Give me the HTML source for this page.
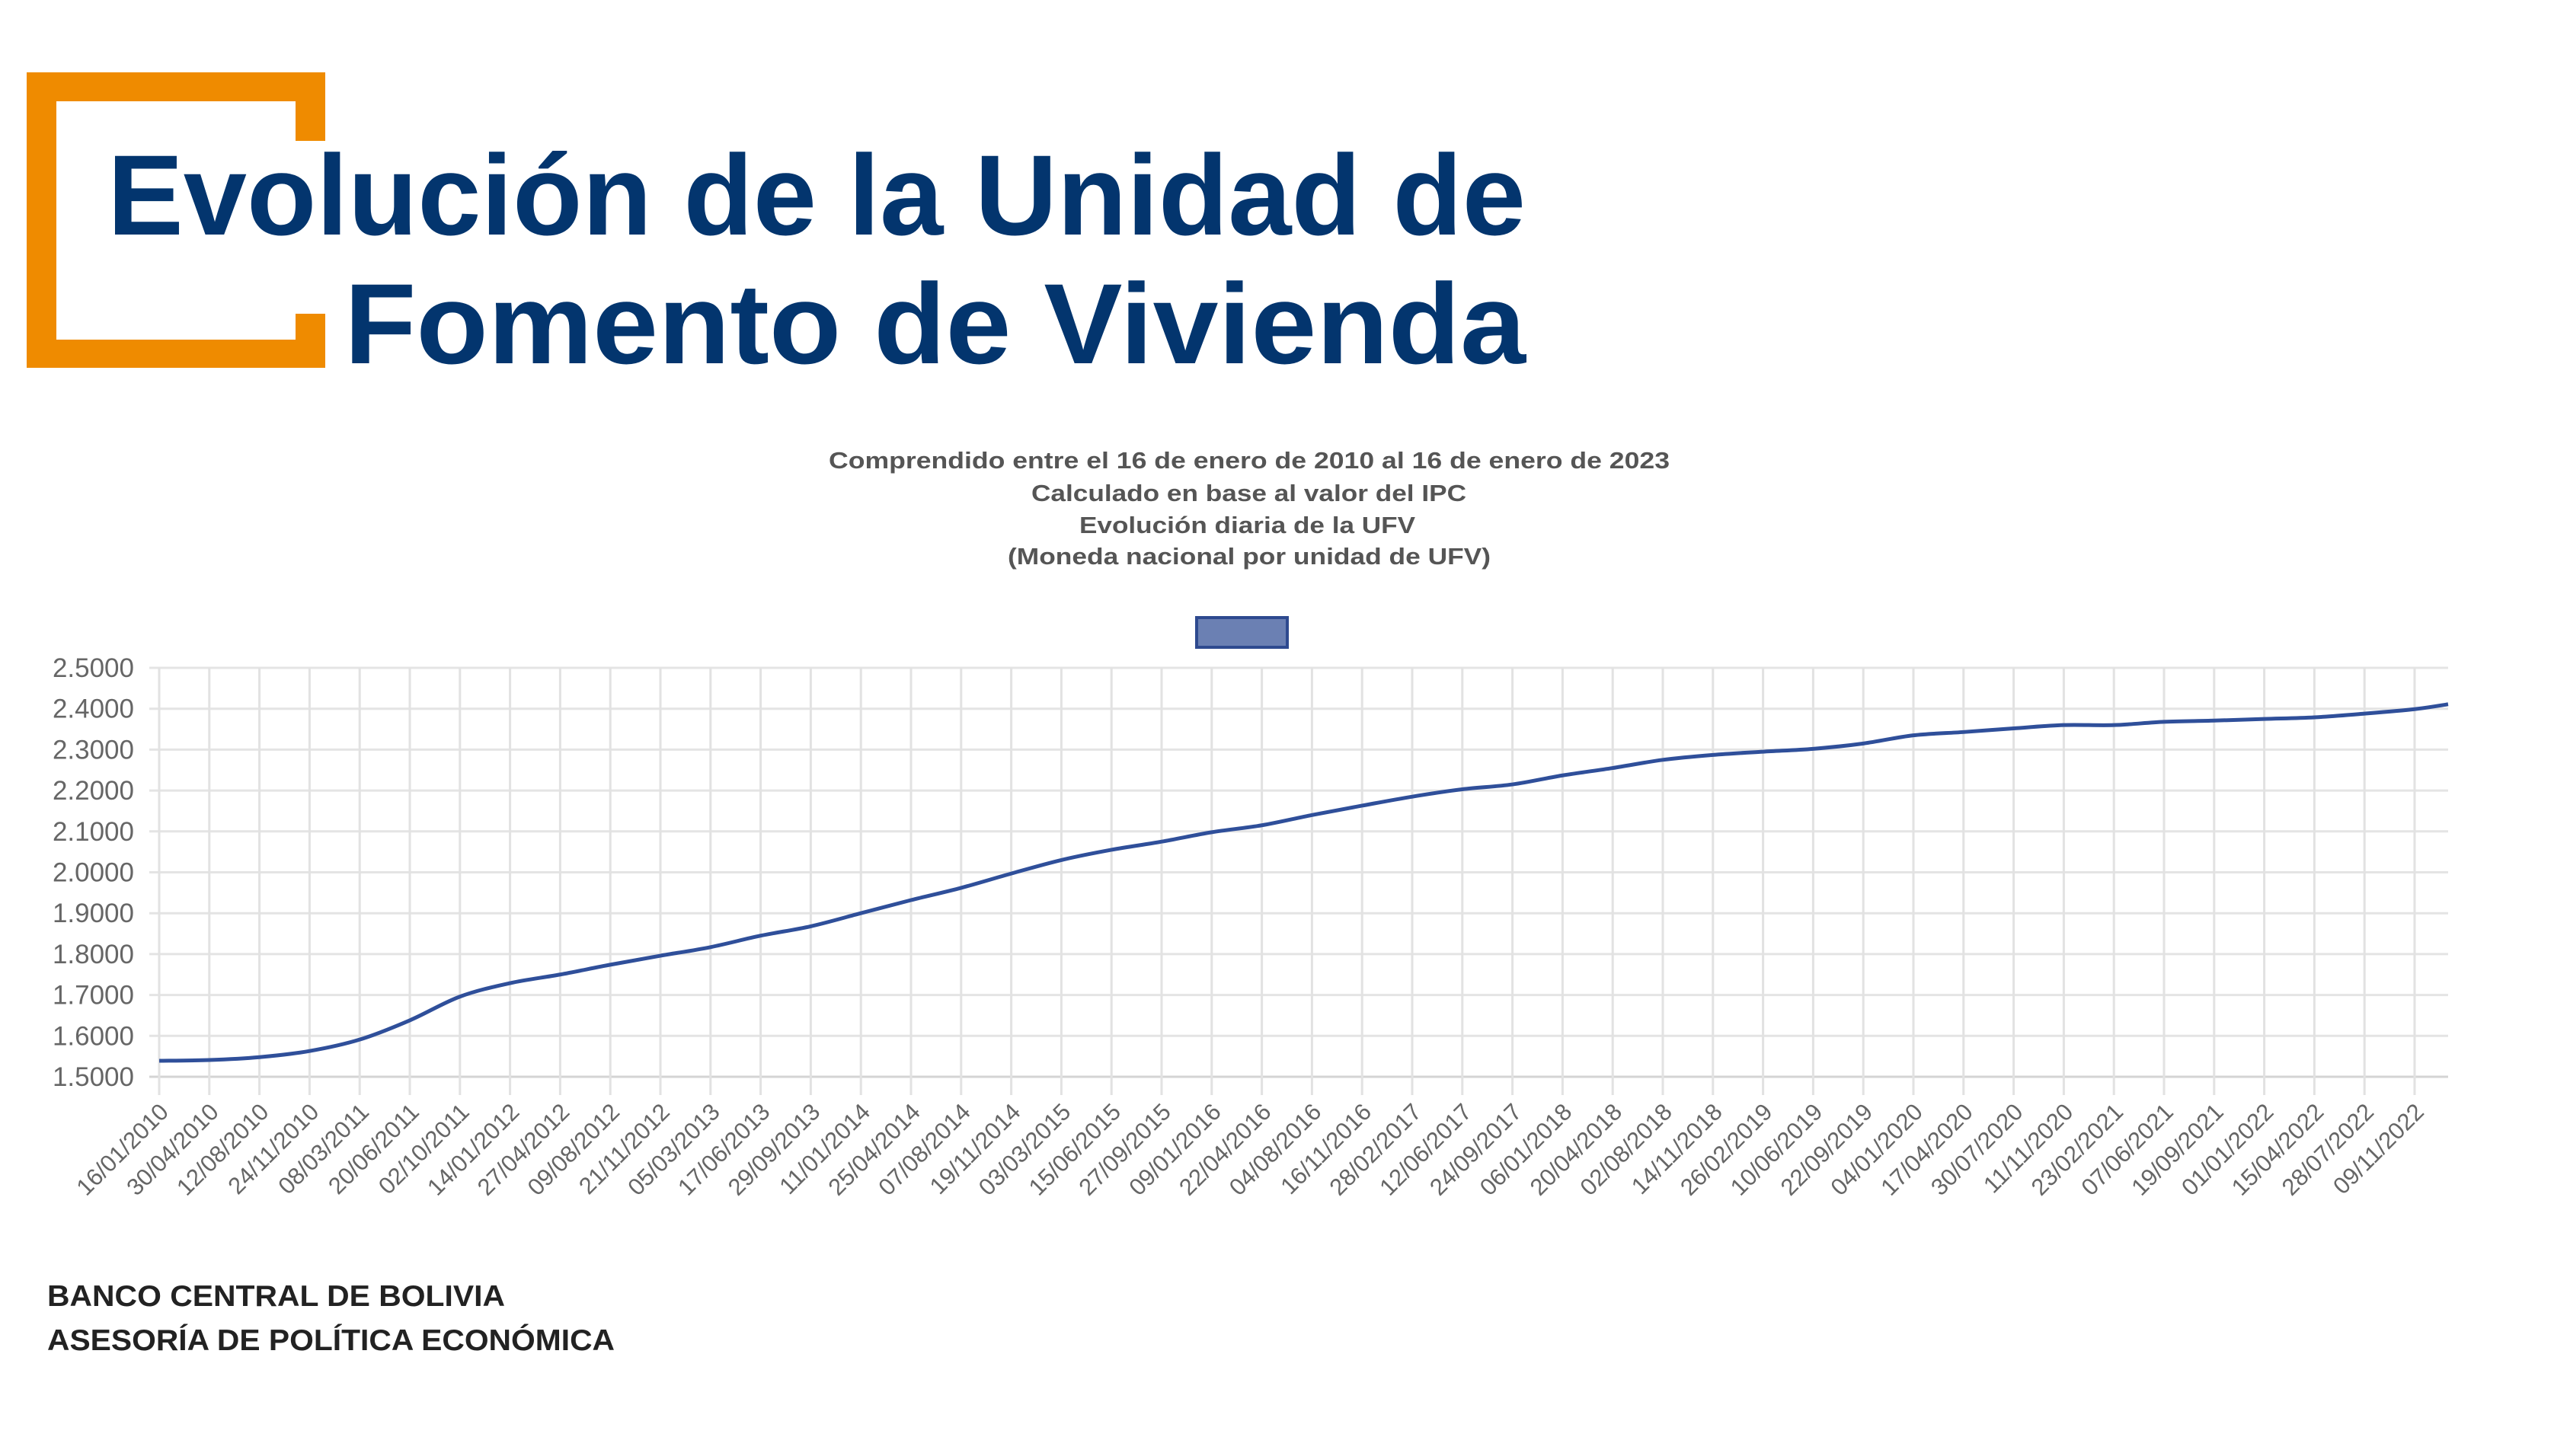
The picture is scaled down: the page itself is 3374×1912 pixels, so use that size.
<!DOCTYPE html>
<html><head><meta charset="utf-8"><style>
html,body{margin:0;padding:0;background:#fff;width:3374px;height:1912px;overflow:hidden}
svg{display:block}
</style></head><body>
<svg id="s" width="3374" height="1912" viewBox="0 0 3374 1912" xmlns="http://www.w3.org/2000/svg">
<path d="M35 95 H427 V185 H388 V133 H74 V446 H388 V412 H427 V483 H35 Z" fill="#ef8b00"/>
<g font-family="'Liberation Sans',sans-serif" font-weight="bold" fill="#03356e" font-size="150">
<text x="141" y="308" textLength="1862" lengthAdjust="spacingAndGlyphs">Evolución de la Unidad de</text>
<text x="452" y="477" textLength="1551" lengthAdjust="spacingAndGlyphs">Fomento de Vivienda</text>
</g>
<g font-family="'Liberation Sans',sans-serif" font-weight="bold" fill="#555" font-size="31">
<text x="1088" y="615" textLength="1104" lengthAdjust="spacingAndGlyphs">Comprendido entre el 16 de enero de 2010 al  16 de enero de 2023</text>
<text x="1354" y="658" textLength="571" lengthAdjust="spacingAndGlyphs">Calculado en base al valor del IPC</text>
<text x="1417" y="700" textLength="441" lengthAdjust="spacingAndGlyphs">Evolución diaria de la UFV</text>
<text x="1323" y="741" textLength="634" lengthAdjust="spacingAndGlyphs">(Moneda nacional por unidad de UFV)</text>
</g>
<rect x="1571" y="811" width="119" height="39" fill="#6b80b3" stroke="#2e4a8f" stroke-width="4"/>
<g id="grid"></g>
<g id="lab" font-family="'Liberation Sans',sans-serif" fill="#666" font-size="31"></g>
<path id="ln" fill="none" stroke="#2f4f9a" stroke-width="5" stroke-linejoin="round"/>
<g font-family="'Liberation Sans',sans-serif" font-weight="bold" fill="#222" font-size="39">
<text x="62" y="1715" textLength="601" lengthAdjust="spacingAndGlyphs">BANCO CENTRAL DE BOLIVIA</text>
<text x="62" y="1773" textLength="745" lengthAdjust="spacingAndGlyphs">ASESORÍA DE POLÍTICA ECONÓMICA</text>
</g>
</svg>
<script>
var NS="http://www.w3.org/2000/svg";
function el(t,a,p,txt){var e=document.createElementNS(NS,t);for(var k in a)e.setAttribute(k,a[k]);if(txt)e.textContent=txt;document.getElementById(p).appendChild(e);return e;}
var X0=209,DX=65.8,Y15=1414,PX=537;
function Y(v){return Y15-(v-1.5)*PX;}
for(var i=0;i<=10;i++){var y=Y(1.5+i*0.1);el('line',{x1:196,x2:3214,y1:y,y2:y,stroke:i==0?'#d4d4d4':'#e4e4e4','stroke-width':3},'grid');
el('text',{x:176,y:y+12,'text-anchor':'end','font-size':35},'lab',(1.5+i*0.1).toFixed(4));}
var labs="16/01/2010,30/04/2010,12/08/2010,24/11/2010,08/03/2011,20/06/2011,02/10/2011,14/01/2012,27/04/2012,09/08/2012,21/11/2012,05/03/2013,17/06/2013,29/09/2013,11/01/2014,25/04/2014,07/08/2014,19/11/2014,03/03/2015,15/06/2015,27/09/2015,09/01/2016,22/04/2016,04/08/2016,16/11/2016,28/02/2017,12/06/2017,24/09/2017,06/01/2018,20/04/2018,02/08/2018,14/11/2018,26/02/2019,10/06/2019,22/09/2019,04/01/2020,17/04/2020,30/07/2020,11/11/2020,23/02/2021,07/06/2021,19/09/2021,01/01/2022,15/04/2022,28/07/2022,09/11/2022".split(',');
for(var i=0;i<labs.length;i++){var x=X0+i*DX;el('line',{x1:x,x2:x,y1:877,y2:1438,stroke:'#e2e2e2','stroke-width':3},'grid');
var tx=x+14,ty=1462;el('text',{x:tx,y:ty,'text-anchor':'end',transform:'rotate(-45 '+tx+' '+ty+')'},'lab',labs[i]);}
el('line',{x1:3214,x2:3214,y1:877,y2:1414,stroke:'#ffffff','stroke-width':0},'grid');
var v=[1.539,1.541,1.548,1.563,1.591,1.638,1.696,1.729,1.75,1.774,1.796,1.817,1.845,1.868,1.90,1.932,1.962,1.997,2.03,2.055,2.075,2.098,2.115,2.14,2.163,2.185,2.203,2.215,2.237,2.255,2.275,2.287,2.295,2.302,2.315,2.335,2.343,2.352,2.36,2.36,2.368,2.371,2.375,2.379,2.388,2.399];
var pts=[];for(var i=0;i<v.length;i++)pts.push([X0+i*DX,Y(v[i])]);pts.push([3214,Y(2.411)]);
var d='M'+pts[0][0]+' '+pts[0][1];
for(var i=0;i<pts.length-1;i++){var p0=pts[Math.max(0,i-1)],p1=pts[i],p2=pts[i+1],p3=pts[Math.min(pts.length-1,i+2)];
var c1x=p1[0]+(p2[0]-p0[0])/6,c1y=p1[1]+(p2[1]-p0[1])/6,c2x=p2[0]-(p3[0]-p1[0])/6,c2y=p2[1]-(p3[1]-p1[1])/6;
d+=' C'+c1x+' '+c1y+' '+c2x+' '+c2y+' '+p2[0]+' '+p2[1];}
document.getElementById('ln').setAttribute('d',d);
</script>
</body></html>
